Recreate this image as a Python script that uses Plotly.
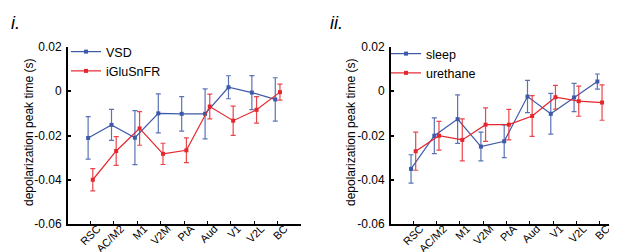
import plotly.graph_objects as go

categories = ["RSC", "AC/M2", "M1", "V2M", "PtA", "Aud", "V1", "V2L", "BC"]

# Panel i.
vsd_mean = [-0.0211, -0.0152, -0.0210, -0.0100, -0.0102, -0.0102, 0.0018, -0.0006, -0.0037]
vsd_err = [0.0096, 0.0070, 0.0122, 0.0088, 0.0078, 0.0113, 0.0052, 0.0077, 0.0098]
iglu_mean = [-0.0400, -0.0270, -0.0168, -0.0283, -0.0267, -0.0069, -0.0133, -0.0084, -0.0004]
iglu_err = [0.0050, 0.0065, 0.0076, 0.0048, 0.0056, 0.0056, 0.0066, 0.0060, 0.0036]

# Panel ii.
sleep_mean = [-0.0351, -0.0201, -0.0126, -0.0250, -0.0226, -0.0024, -0.0102, -0.0028, 0.0044]
sleep_err = [0.0064, 0.0081, 0.0110, 0.0065, 0.0074, 0.0073, 0.0092, 0.0064, 0.0034]
ureth_mean = [-0.0271, -0.0201, -0.0220, -0.0151, -0.0151, -0.0112, -0.0027, -0.0045, -0.0051]
ureth_err = [0.0086, 0.0065, 0.0095, 0.0076, 0.0069, 0.0092, 0.0054, 0.0068, 0.0080]

ytick_vals = [-0.06, -0.04, -0.02, 0, 0.02]
ytick_text = ["-0.06", "-0.04", "-0.02", "0", "0.02"]

BLUE = "#3d5aa8"
RED = "#e5262c"
BLUE_EB = "rgba(61,90,168,0.85)"
RED_EB = "rgba(229,38,44,0.85)"
FONT = "Liberation Sans, Arial, sans-serif"

idx = list(range(len(categories)))
off = 0.1

fig = go.Figure()

def add(mean, err, color, ebcolor, name, xa, ya, legend, shift):
    fig.add_trace(go.Scatter(
        x=[i + shift for i in idx], y=mean, name=name, mode="lines+markers",
        line=dict(color=color, width=1.2),
        marker=dict(color=color, size=4, symbol="square"),
        error_y=dict(type="data", array=err, visible=True, color=ebcolor,
                     thickness=1.2, width=2.5),
        xaxis=xa, yaxis=ya, legend=legend,
    ))

add(vsd_mean, vsd_err, BLUE, BLUE_EB, "VSD", "x", "y", "legend", -off)
add(iglu_mean, iglu_err, RED, RED_EB, "iGluSnFR", "x", "y", "legend", off)
add(sleep_mean, sleep_err, BLUE, BLUE_EB, "sleep", "x2", "y2", "legend2", -off)
add(ureth_mean, ureth_err, RED, RED_EB, "urethane", "x2", "y2", "legend2", off)

W, H = 617, 252
TOP, BOT = 39, 216
def py(p):
    return (BOT - p) / (BOT - TOP)

xcommon = dict(range=[-0.96, 9.0], tickvals=idx, ticktext=categories, tickangle=-45,
               showline=True, linecolor="black", linewidth=2,
               ticks="inside", ticklen=3, tickwidth=1, tickcolor="black",
               ticklabelshift=7, ticklabelstandoff=-8,
               showgrid=False, zeroline=False, tickfont=dict(size=11, color="black", family=FONT))
ycommon = dict(range=[-0.06, 0.02], tickvals=ytick_vals, ticktext=ytick_text,
               showline=True, linecolor="black", linewidth=2, ticks="inside", ticklen=3,
               tickcolor="black", tickwidth=1.5, showgrid=False, zeroline=False,
               tickfont=dict(size=12, color="black", family=FONT), ticklabelstandoff=2)

fig.update_layout(
    width=W, height=H,
    margin=dict(l=0, r=0, t=TOP, b=H - BOT),
    paper_bgcolor="white", plot_bgcolor="white",
    font=dict(family=FONT, color="black", size=12),
    xaxis=dict(domain=[60 / W, 293 / W], anchor="y", **xcommon),
    yaxis=dict(domain=[0, 1], anchor="x", **ycommon),
    xaxis2=dict(domain=[383 / W, 615 / W], anchor="y2", **xcommon),
    yaxis2=dict(domain=[0, 1], anchor="x2", **ycommon),
    legend=dict(x=58 / W, y=py(29), xanchor="left", yanchor="top",
                bgcolor="rgba(0,0,0,0)", itemwidth=30, font=dict(size=12.5, family=FONT),
                tracegroupgap=0),
    legend2=dict(x=378 / W, y=py(31), xanchor="left", yanchor="top",
                 bgcolor="rgba(0,0,0,0)", itemwidth=30, font=dict(size=12.5, family=FONT),
                 tracegroupgap=0),
    annotations=[
        dict(text="<i>i.</i>", x=1 / W, y=py(3), xref="paper", yref="paper",
             xanchor="left", yanchor="top", showarrow=False, font=dict(size=18, family=FONT)),
        dict(text="<i>ii.</i>", x=320 / W, y=py(3), xref="paper", yref="paper",
             xanchor="left", yanchor="top", showarrow=False, font=dict(size=18, family=FONT)),
        dict(text="depolarization peak time (s)", textangle=-90, x=21 / W, y=py(125),
             xref="paper", yref="paper", xanchor="center", yanchor="middle",
             showarrow=False, font=dict(size=12, family=FONT)),
        dict(text="depolarization peak time (s)", textangle=-90, x=343 / W, y=py(125),
             xref="paper", yref="paper", xanchor="center", yanchor="middle",
             showarrow=False, font=dict(size=12, family=FONT)),
    ],
)

fig.write_html("out.html")
